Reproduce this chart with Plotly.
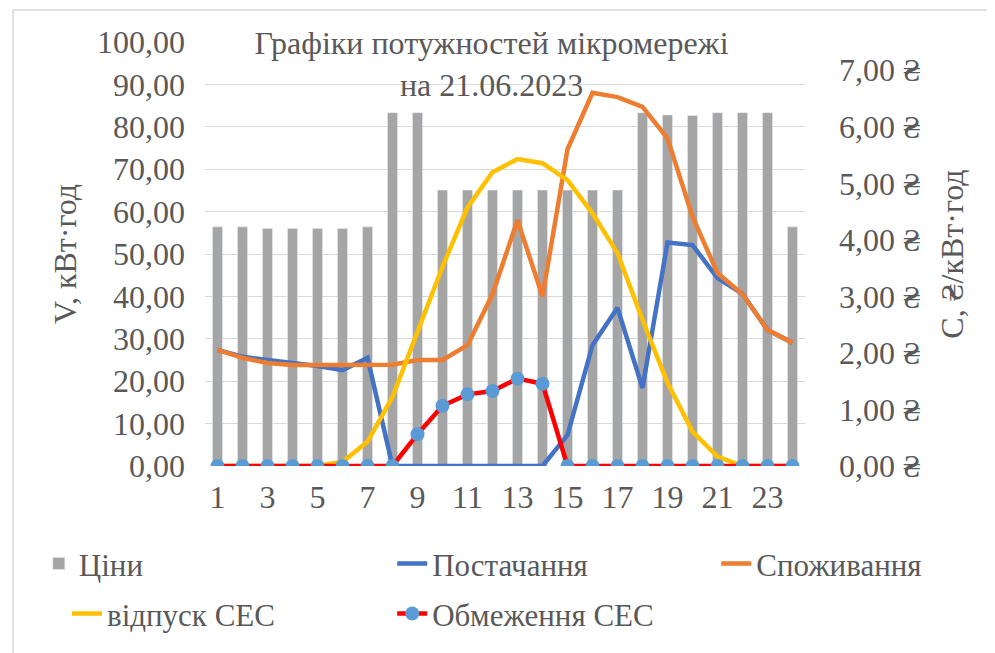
import plotly.graph_objects as go

hours = list(range(1, 25))
prices = [4.23, 4.23, 4.20, 4.20, 4.20, 4.20, 4.23, 6.25, 6.25, 4.88, 4.88, 4.88,
          4.88, 4.88, 4.88, 4.88, 4.88, 6.25, 6.21, 6.20, 6.25, 6.25, 6.25, 4.23]
supply = [27.4, 25.8, 25.0, 24.4, 23.6, 22.6, 25.5, 0, 0, 0, 0, 0,
          0, 0, 7.3, 28.5, 37.3, 18.4, 52.7, 52.1, 44.3, 40.6, 32.1, 29.1]
consumption = [27.4, 25.5, 24.3, 23.8, 23.8, 23.8, 23.8, 23.9, 25.0, 25.0, 28.5, 40.5,
               58.0, 40.0, 74.7, 88.0, 87.0, 84.7, 77.3, 58.8, 45.5, 40.5, 32.1, 29.1]
solar = [0, 0, 0, 0, 0, 1.0, 5.7, 16.3, 32.0, 47.0, 61.0, 69.3,
         72.4, 71.4, 67.4, 59.6, 50.2, 34.5, 19.6, 8.1, 2.2, 0, 0, 0]
limit = [0, 0, 0, 0, 0, 0, 0, 0, 7.5, 14.2, 16.9, 17.7,
         20.6, 19.4, 0, 0, 0, 0, 0, 0, 0, 0, 0, 0]

x_ticks = [1, 3, 5, 7, 9, 11, 13, 15, 17, 19, 21, 23]
left_vals = [0, 10, 20, 30, 40, 50, 60, 70, 80, 90, 100]
left_text = ["0,00", "10,00", "20,00", "30,00", "40,00", "50,00", "60,00",
             "70,00", "80,00", "90,00", "100,00"]
right_vals = [0, 1, 2, 3, 4, 5, 6, 7]
right_text = ["0,00 ₴", "1,00 ₴", "2,00 ₴", "3,00 ₴", "4,00 ₴", "5,00 ₴", "6,00 ₴", "7,00 ₴"]

FONT = "Liberation Serif"
TXT = "#595959"
FS = 32
LFS = 31

fig = go.Figure()
fig.add_trace(go.Bar(x=hours, y=prices, name="Ціни", marker_color="#a5a5a5",
                     width=0.4, yaxis="y", legend="legend"))
fig.add_trace(go.Scatter(x=hours, y=supply, name="Постачання", mode="lines",
                         line=dict(color="#4472c4", width=4.5), yaxis="y2", legend="legend2"))
fig.add_trace(go.Scatter(x=hours, y=consumption, name="Споживання", mode="lines",
                         line=dict(color="#ed7d31", width=4.5), yaxis="y2", legend="legend3"))
fig.add_trace(go.Scatter(x=hours, y=solar, name="відпуск СЕС", mode="lines",
                         line=dict(color="#ffc000", width=4.5), yaxis="y2", legend="legend4"))
fig.add_trace(go.Scatter(x=hours, y=limit, name="Обмеження СЕС", mode="lines+markers",
                         line=dict(color="#ff0000", width=4.5),
                         marker=dict(color="#5b9bd5", size=14),
                         yaxis="y2", legend="legend5"))


def leg(x, y):
    return dict(orientation="h", x=x, xanchor="left", y=y, yanchor="top",
                font=dict(size=LFS, color=TXT, family=FONT), bgcolor="rgba(0,0,0,0)")


fig.update_layout(
    width=995, height=653,
    margin=dict(l=197, r=198, t=34, b=195),
    paper_bgcolor="white", plot_bgcolor="white",
    font=dict(family=FONT, color=TXT, size=FS),
    title=dict(text="Графіки потужностей мікромережі<br>на 21.06.2023",
               x=0.486, xref="container", xanchor="center",
               y=0.929, yref="container", yanchor="middle",
               font=dict(family=FONT, size=FS, color=TXT)),
    xaxis=dict(range=[0.5, 24.5], tickvals=x_ticks, showgrid=False, zeroline=False,
               showline=False, ticks="", tickfont=dict(size=FS), ticklabelstandoff=9),
    yaxis=dict(range=[0, 7.5], side="right", tickvals=right_vals, ticktext=right_text,
               showgrid=False, zeroline=False, showline=False, ticks="",
               ticklabelstandoff=33, tickfont=dict(size=FS),
               title=dict(text="C, ₴/кВт·год", standoff=20, font=dict(size=FS))),
    yaxis2=dict(range=[0, 100], overlaying="y", side="left", tickvals=left_vals,
                ticktext=left_text, showgrid=True, gridcolor="#d9d9d9", gridwidth=1,
                zeroline=False, showline=False, ticks="", ticklabelstandoff=19,
                tickfont=dict(size=FS),
                title=dict(text="V, кВт·год", standoff=10, font=dict(size=FS))),
    legend=leg(-0.277, -0.167),
    legend2=leg(0.312, -0.167),
    legend3=leg(0.852, -0.167),
    legend4=leg(-0.23, -0.285),
    legend5=leg(0.312, -0.285),
    showlegend=True,
)

# outer chart border (top and left edges visible)
fig.add_shape(type="line", xref="paper", yref="paper", x0=-0.32, x1=1.35, y0=1.0755, y1=1.0755,
              line=dict(color="#d9d9d9", width=1.5))
fig.add_shape(type="line", xref="paper", yref="paper", x0=-0.32, x1=-0.32, y0=1.0755, y1=-0.45,
              line=dict(color="#d9d9d9", width=1.5))

fig.write_html("out.html")
